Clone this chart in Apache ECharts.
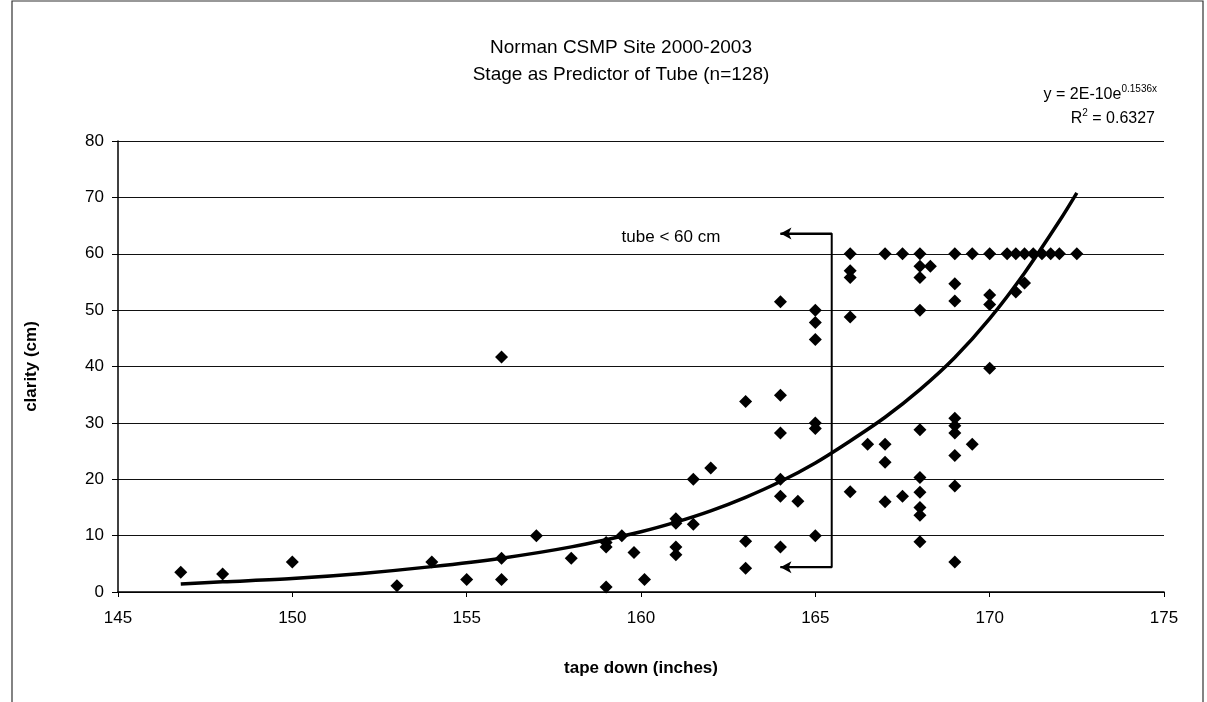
<!DOCTYPE html>
<html>
<head>
<meta charset="utf-8">
<script src="https://cdn.jsdelivr.net/npm/echarts@6/dist/echarts.min.js"></script>
<style>
html,body{margin:0;padding:0;background:#fff;}
#c{width:1207px;height:702px;}
</style>
</head>
<body>
<div id="c"></div>
<script>
// ---- data ----
const tapeDown = [146.8,148.0,150.0,153.0,154.0,155.0,156.0,156.0,156.0,157.0,158.0,159.0,159.0,159.0,159.45,159.8,160.1,
  161.0,161.0,161.0,161.0,161.5,161.5,162.0,163.0,163.0,163.0,164.0,164.0,164.0,164.0,164.0,164.0,164.5,
  165.0,165.0,165.0,165.0,165.0,165.0,166.0,166.0,166.0,166.0,166.0,166.5,167.0,167.0,167.0,167.0,167.5,167.5,
  168.0,168.0,168.3,168.0,168.0,168.0,168.0,168.0,168.0,168.0,168.0,
  169.0,169.0,169.0,169.0,169.0,169.0,169.0,169.0,169.0,169.5,169.5,
  170.0,170.0,170.0,170.0,170.5,170.75,170.75,171.0,171.0,171.25,171.5,171.75,172.0,172.5];
const clarity = [3.5,3.2,5.3,1.1,5.3,2.2,2.2,6.0,41.7,10.0,6.0,0.9,8.0,8.8,10.0,7.0,2.2,
  13.0,12.2,8.0,6.6,20.0,12.0,22.0,33.8,9.0,4.2,51.5,34.9,28.2,20.0,17.0,8.0,16.1,
  50.0,47.8,44.8,30.0,29.0,10.0,60,57.0,55.8,48.8,17.8,26.2,60,26.2,23.0,16.0,60,17.0,
  60,57.8,57.8,55.8,50.0,28.8,20.3,17.7,15.0,13.6,8.9,
  60,54.7,51.6,30.8,29.5,28.2,24.2,18.8,5.3,60,26.2,
  60,52.7,51.0,39.7,60,60,53.2,60,54.8,60,60,60,60,60];
// trend curve
const trendX = [146.8,148,150,152,154,156,158,160,161,162,163,164,165,166,167,168,169,170,171,172,172.5];
const trendY = [1.4,1.8,2.4,3.3,4.5,6.0,8.0,10.7,12.4,14.4,16.8,19.6,22.9,26.8,31.0,35.9,41.6,48.5,56.6,65.8,70.8];
// axis ticks
const xTicks = {min:145, max:175, step:5};
const yTicks = {min:0, max:80, step:10};
// annotation bracket (data coords)
const bracketX = 165.47, bracketTip = 164.0, bracketTop = 63.6, bracketBottom = 4.4;
const noteText = 'tube < 60 cm';
const notePos = [160.86, 63.0];

const titleLines = ['Norman CSMP Site 2000-2003', 'Stage as Predictor of Tube (n=128)'];
const equation = {base:'y = 2E-10e', exp:'0.1536x', r2:'0.6327'};

const FONT = '"Liberation Sans", Arial, sans-serif';
const points = tapeDown.map((x,i)=>[x, clarity[i]]);
const trend = trendX.map((x,i)=>[x, trendY[i]]);

const richStyle = {
  a:{fontFamily:FONT, fontSize:16, color:'#000', verticalAlign:'bottom', lineHeight:20},
  s:{fontFamily:FONT, fontSize:10, color:'#000', verticalAlign:'bottom', lineHeight:10, padding:[0,0,9,0]}
};

const chart = echarts.init(document.getElementById('c'), null, {renderer:'canvas'});
chart.setOption({
  backgroundColor:'#fff',
  animation:false,
  title:{
    text: titleLines.join('\n'),
    left: 616, top: 29, textAlign:'center',
    textStyle:{fontFamily:FONT, fontSize:19, fontWeight:'normal', color:'#000', lineHeight:27}
  },
  grid:{left:118, right:43, top:141, bottom:110, containLabel:false},
  xAxis:{
    type:'value', min:xTicks.min, max:xTicks.max, interval:xTicks.step,
    name:'tape down (inches)', nameLocation:'middle', nameGap:68,
    nameTextStyle:{fontFamily:FONT, fontSize:17, fontWeight:'bold', color:'#000'},
    axisLine:{show:true, lineStyle:{color:'#000', width:1.5}},
    axisTick:{show:true, length:5, lineStyle:{color:'#000'}},
    axisLabel:{fontFamily:FONT, fontSize:17, color:'#000', margin:18},
    splitLine:{show:false}
  },
  yAxis:{
    type:'value', min:yTicks.min, max:yTicks.max, interval:yTicks.step,
    name:'clarity (cm)', nameLocation:'middle', nameGap:78, nameRotate:90,
    nameTextStyle:{fontFamily:FONT, fontSize:17, fontWeight:'bold', color:'#000'},
    axisLine:{show:true, lineStyle:{color:'#000', width:1.5}},
    axisTick:{show:true, length:6, lineStyle:{color:'#000'}},
    axisLabel:{fontFamily:FONT, fontSize:17, color:'#000', margin:14},
    splitLine:{show:true, lineStyle:{color:'#111', width:1.2}}
  },
  series:[
    {
      type:'scatter', data:points, symbol:'diamond', symbolSize:13,
      itemStyle:{color:'#000', opacity:1}, z:3
    },
    {
      type:'line', data:trend, smooth:0.3, showSymbol:false, symbol:'none',
      lineStyle:{color:'#000', width:3.5}, z:4
    },
    {
      type:'line', data:[[bracketTip,bracketTop],[bracketX,bracketTop],[bracketX,bracketBottom],[bracketTip,bracketBottom]],
      showSymbol:false, symbol:'none', lineStyle:{color:'#000', width:2}, z:2,
      markLine:{
        silent:true, symbolSize:[9,11], animation:false,
        lineStyle:{color:'#000', width:2, type:'solid'}, label:{show:false},
        data:[
          [{coord:[bracketX,bracketTop], symbol:'none'},{coord:[bracketTip,bracketTop], symbol:'arrow'}],
          [{coord:[bracketX,bracketBottom], symbol:'none'},{coord:[bracketTip,bracketBottom], symbol:'arrow'}]
        ]
      }
    },
    {
      type:'scatter', data:[notePos], symbolSize:0, silent:true,
      itemStyle:{opacity:1, color:'#000'},
      label:{show:true, position:'inside', formatter:noteText, fontFamily:FONT, fontSize:17, color:'#000', opacity:1}
    }
  ],
  graphic:[
    {type:'rect', shape:{x:12, y:1, width:1191, height:720}, style:{fill:'none', stroke:'#333', lineWidth:1.2}, silent:true},
    {type:'text', right:50, top:84, style:{rich:richStyle, text:'{a|'+equation.base+'}{s|'+equation.exp+'}'}},
    {type:'text', right:52, top:108, style:{rich:richStyle, text:'{a|R}{s|2}{a| = '+equation.r2+'}'}}
  ]
});
</script>
</body>
</html>
